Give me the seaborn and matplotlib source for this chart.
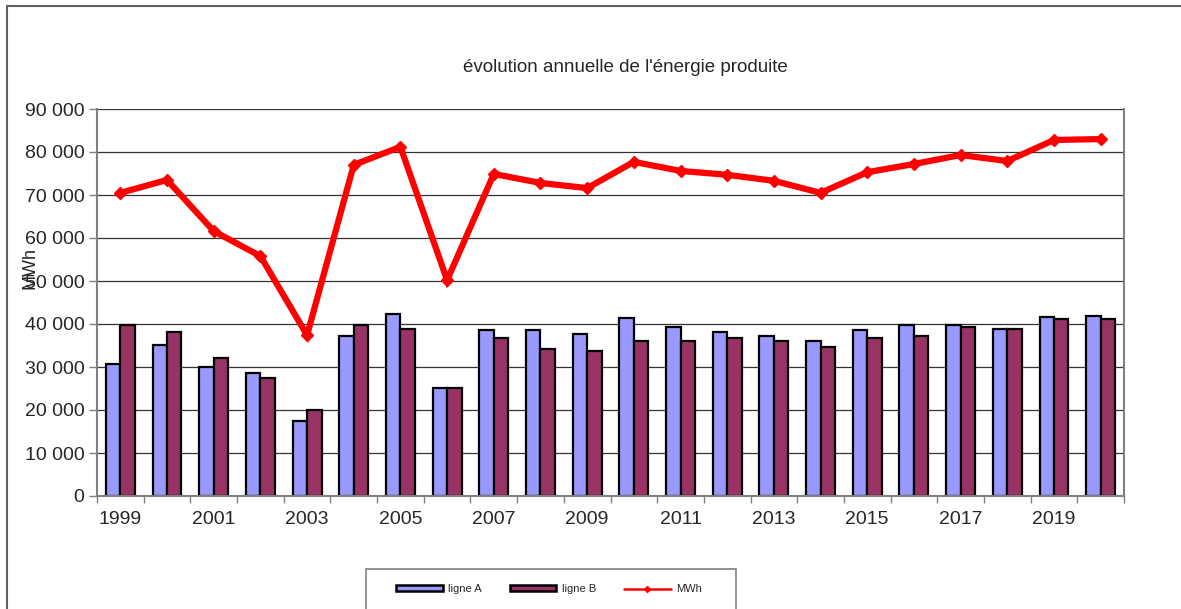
import numpy as np
import pandas as pd
import matplotlib
matplotlib.use('Agg')
import matplotlib.pyplot as plt
from matplotlib.patches import Rectangle, Patch
from matplotlib.lines import Line2D
from matplotlib.ticker import FuncFormatter, FixedLocator
import seaborn as sns

#%% data

years = [str(y) for y in range(1999, 2021)]

ligne_a = [30700, 35100, 29900, 28500, 17400, 37300, 42400, 25100, 38500, 38500, 37600,
           41500, 39400, 38100, 37200, 36000, 38500, 39800, 39800, 38900, 41600, 41900]
ligne_b = [39800, 38100, 32100, 27400, 19900, 39800, 38900, 25100, 36800, 34200, 33800,
           36000, 36000, 36800, 36000, 34700, 36800, 37200, 39400, 38900, 41100, 41100]
mwh = [70500, 73500, 61600, 55800, 37400, 77000, 81200, 50200, 74900, 72800, 71600,
       77700, 75600, 74700, 73300, 70500, 75300, 77200, 79300, 77900, 82800, 83000]

series_names = ['ligne A', 'ligne B']
bar_colors = ['#9999FF', '#993366']

df = pd.DataFrame({
    'année': years * 2,
    'valeur': ligne_a + ligne_b,
    'série': [series_names[0]] * len(years) + [series_names[1]] * len(years),
})

#%% plot

sns.set_style('white')
plt.rcParams['font.family'] = ['Liberation Sans', 'DejaVu Sans']

fig = plt.figure(figsize=(11.81, 6.09), dpi=100)
ax = fig.add_axes([97/1181, 1 - 496/609, (1124 - 97)/1181, 387/609])

sns.barplot(data=df, x='année', y='valeur', hue='série', order=years,
            palette=bar_colors, saturation=1, edgecolor='black', linewidth=1.6,
            width=0.62, gap=0, legend=False, ax=ax, zorder=2)

x = np.arange(len(years))
ax.plot(x, mwh, color='#FF0000', lw=4.5, marker='D', markersize=6,
        markeredgecolor='#FF0000', zorder=4, solid_joinstyle='miter')

ax.set_xlim(-0.5, len(years) - 0.5)
ax.set_ylim(0, 90000)
ax.set_yticks(np.arange(0, 90001, 10000))
ax.yaxis.set_major_formatter(FuncFormatter(lambda v, p: f'{int(v):,}'.replace(',', ' ')))
ax.yaxis.grid(True, color='#333333', lw=0.9)
ax.set_axisbelow(True)

# tick marks between the years, labels every other year
ax.xaxis.set_major_locator(FixedLocator(np.arange(-0.5, len(years))))
ax.set_xticklabels([])
ax.xaxis.set_minor_locator(FixedLocator(x[::2]))
ax.set_xticklabels(years[::2], minor=True)
ax.tick_params(axis='x', which='major', length=5, width=1, color='#808080', direction='out')
ax.tick_params(axis='x', which='minor', length=0, pad=11, labelsize=14)
ax.tick_params(axis='y', length=6, width=1, color='#808080', direction='out', pad=3, labelsize=14)
ax.tick_params(bottom=True, left=True)

ax.set_xlabel('')
ax.set_ylabel('')
for s in ['left', 'right', 'bottom']:
    ax.spines[s].set_color('#808080')
    ax.spines[s].set_linewidth(1.5)
ax.spines['top'].set_visible(False)

# the y title sits over the "50 000" label, as in the original chart
fig.text(30/1181, 1 - 268/609, 'MWh', rotation=90, ha='center', va='center', fontsize=13)
fig.text(625/1181, 1 - 72/609, "évolution annuelle de l'énergie produite",
         ha='center', va='baseline', fontsize=13.5)

# outer chart frame
fig.patches.append(Rectangle((7/1181, -0.05), 1.1, 1.05 - 6/609, transform=fig.transFigure,
                             fill=False, edgecolor='#606060', lw=1.5))

# legend box
fig.patches.append(Rectangle((366/1181, -0.05), 370/1181, 0.05 + 1 - 569/609,
                             transform=fig.transFigure, fill=False, edgecolor='#808080', lw=1.2))
handles = [
    Patch(facecolor=bar_colors[0], edgecolor='black', lw=1.8),
    Patch(facecolor=bar_colors[1], edgecolor='black', lw=1.8),
    Line2D([], [], color='#FF0000', lw=1.8, marker='D', markersize=3),
]
fig.legend(handles, series_names + ['MWh'], loc='center left',
           bbox_to_anchor=(396/1181, 1 - 589/609), ncol=3, frameon=False,
           fontsize=8, handlelength=4.2, handleheight=0.4, handletextpad=0.5,
           columnspacing=2.5, borderpad=0, borderaxespad=0)

fig.savefig('out.png', dpi=100)
